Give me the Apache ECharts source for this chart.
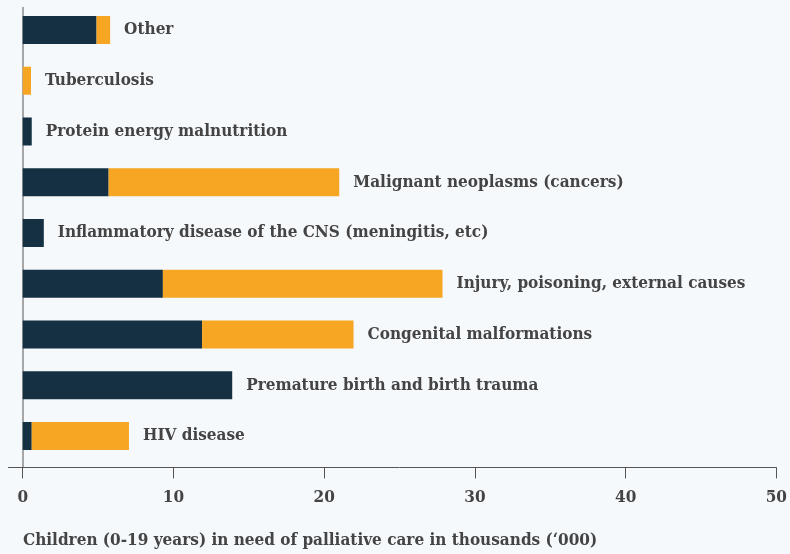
<!DOCTYPE html>
<html>
<head>
<meta charset="utf-8">
<script src="https://cdn.jsdelivr.net/npm/echarts@6/dist/echarts.min.js"></script>
<style>
	html, body { margin: 0; padding: 0; background: #f5f9fc; }
	#chart { width: 790px; height: 554px; }
</style>
</head>
<body>
<div id="chart"></div>
<script>
// categories, bottom to top (category axis starts at the bottom)
const categories = [
	'HIV disease',
	'Premature birth and birth trauma',
	'Congenital malformations',
	'Injury, poisoning, external causes',
	'Inflammatory disease of the CNS (meningitis, etc)',
	'Malignant neoplasms (cancers)',
	'Protein energy malnutrition',
	'Tuberculosis',
	'Other'
];
// thousands of children, two stacked parts
const darkValues = [0.6, 13.9, 11.9, 9.3, 1.4, 5.7, 0.6, 0, 4.9];
const orangeValues = [6.45, 0, 10.05, 18.55, 0, 15.3, 0, 0.55, 0.9];
const xTicks = [0, 10, 20, 30, 40, 50];

const fontFamily = '"DejaVu Serif Condensed", "DejaVu Serif", serif';
const textColor = '#444';
const axisColor = '#555';

let myChart = echarts.init(document.getElementById('chart'));
let option = {
	backgroundColor: '#f5f9fc',
	animation: false,
	title: {
		text: 'Children (0-19 years) in need of palliative care in thousands (\u2018000)',
		left: 18,
		top: 527,
		textStyle: { fontFamily: fontFamily, fontSize: 17, fontWeight: 'bold', color: textColor }
	},
	grid: { left: 22.7, right: 12.3, top: 4.6, bottom: 92.6 },
	xAxis: {
		type: 'value',
		min: xTicks[0],
		max: xTicks[xTicks.length - 1],
		interval: 10,
		offset: 6,
		splitLine: { show: false },
		axisLine: { show: true, lineStyle: { color: axisColor } },
		axisTick: { show: true, length: 11, lineStyle: { color: axisColor } },
		axisLabel: { margin: 22, fontFamily: fontFamily, fontSize: 17, fontWeight: 'bold', color: textColor }
	},
	yAxis: {
		type: 'category',
		data: categories,
		axisLine: { show: false },
		axisTick: { show: false },
		axisLabel: { show: false }
	},
	graphic: [
		// vertical axis line (runs down to the offset x axis)
		{ type: 'line', silent: true, shape: { x1: 23, y1: 7, x2: 23, y2: 467 }, style: { stroke: axisColor, lineWidth: 1 } },
		// x axis line extends a little left of zero
		{ type: 'line', silent: true, shape: { x1: 8, y1: 467.5, x2: 23, y2: 467.5 }, style: { stroke: axisColor, lineWidth: 1 } }
	],
	series: [
		{
			name: 'dark',
			type: 'bar',
			stack: 'total',
			barWidth: 28,
			data: darkValues,
			itemStyle: { color: '#143042' }
		},
		{
			name: 'orange',
			type: 'bar',
			stack: 'total',
			barWidth: 28,
			data: orangeValues,
			itemStyle: { color: '#f6a623' },
			label: {
				show: true,
				position: 'right',
				distance: 14,
				fontFamily: fontFamily,
				fontSize: 17,
				fontWeight: 'bold',
				color: textColor,
				formatter: function (params) {
					return params.name;
				}
			}
		}
	]
};
myChart.setOption(option);
</script>
</body>
</html>
